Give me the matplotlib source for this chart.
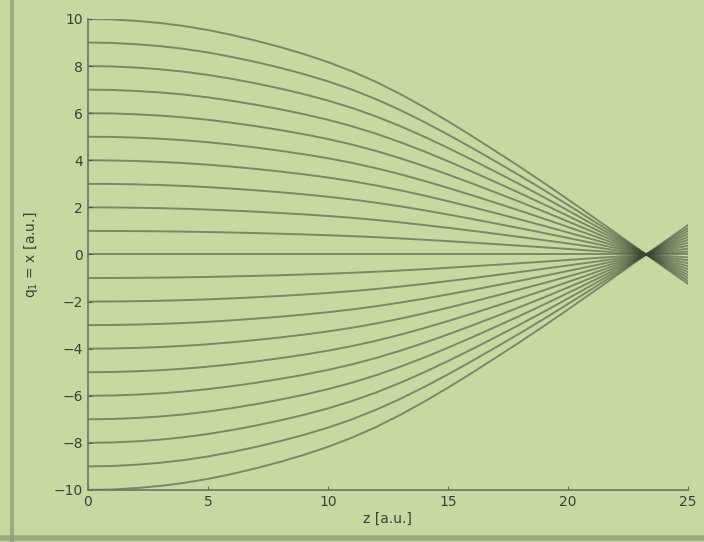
import numpy as np
import matplotlib.pyplot as plt
from matplotlib.lines import Line2D

# outermost trajectory (starts at x = 10)
z = list(range(0, 26))
outer = [10, 9.98, 9.92, 9.83, 9.70, 9.53, 9.32, 9.08, 8.81, 8.51, 8.17,
         7.78, 7.33, 6.82, 6.26, 5.66, 5.03, 4.38, 3.72, 3.04, 2.34,
         1.63, 0.91, 0.19, -0.53, -1.24]
# starting heights of the rays
starts = list(range(-10, 11))

bg = "#c8d8a2"
ink = "#3c4733"

fig = plt.figure(figsize=(7.04, 5.42), dpi=100, facecolor=bg)
ax = fig.add_axes([0.125, 0.096, 0.852, 0.869], facecolor=bg)

outer = np.array(outer)
for x0 in starts:
    ax.plot(z, outer * x0 / 10.0, color=ink, alpha=0.55, lw=1.4)

ax.set_xlim(0, 25)
ax.set_ylim(-10, 10)
ax.set_xticks([0, 5, 10, 15, 20, 25])
ax.set_yticks(range(-10, 11, 2))
ax.tick_params(direction="in", length=3, colors="#5c6850", labelsize=10,
               labelcolor="#3a4232")
for s in ["top", "right"]:
    ax.spines[s].set_visible(False)
for s in ["left", "bottom"]:
    ax.spines[s].set_color("#6a7860")
    ax.spines[s].set_linewidth(1.2)

ax.set_xlabel("z [a.u.]", fontsize=10, color="#3a4232", labelpad=2)
ax.set_ylabel("q$_1$ = x [a.u.]", fontsize=10, color="#3a4232", labelpad=10)

# dark edges of the photographed screen
fig.add_artist(Line2D([0.017, 0.017], [0.0, 1.0], color="#8a9a74", lw=3, alpha=0.7))
fig.add_artist(Line2D([0.0, 1.0], [0.008, 0.008], color="#8a9a74", lw=4, alpha=0.7))

fig.savefig("out.png", dpi=100, facecolor=bg)
